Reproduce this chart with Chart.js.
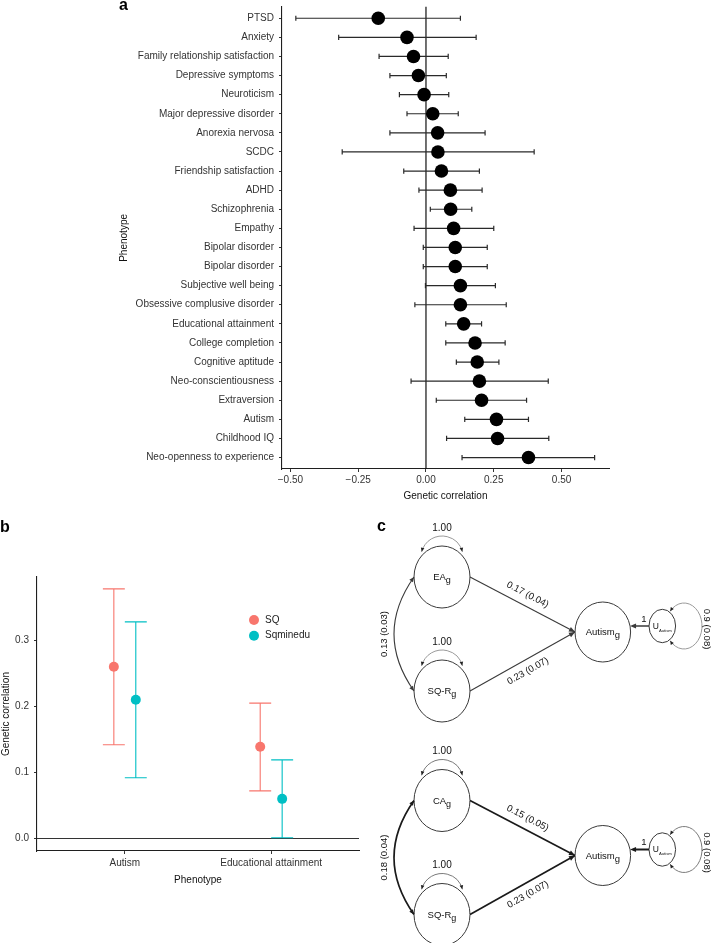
<!DOCTYPE html>
<html><head><meta charset="utf-8">
<script src="https://cdn.jsdelivr.net/npm/chart.js@4.4.1/dist/chart.umd.min.js"></script>
<style>
html,body{margin:0;padding:0;background:#fff;}
body{width:718px;height:943px;position:relative;overflow:hidden;}
canvas{position:absolute;}
#ca{left:0;top:0;}
#cb{left:0;top:510px;}
#cc{left:370px;top:510px;}
</style></head><body>
<canvas id="ca" width="718" height="510"></canvas>
<canvas id="cb" width="370" height="433"></canvas>
<canvas id="cc" width="348" height="433"></canvas>
<script>
// ---------------- Panel a data ----------------
const phenotypes = ["PTSD","Anxiety","Family relationship satisfaction","Depressive symptoms","Neuroticism","Major depressive disorder","Anorexia nervosa","SCDC","Friendship satisfaction","ADHD","Schizophrenia","Empathy","Bipolar disorder","Bipolar disorder","Subjective well being","Obsessive complusive disorder","Educational attainment","College completion","Cognitive aptitude","Neo-conscientiousness","Extraversion","Autism","Childhood IQ","Neo-openness to experience"];
const rgEstimate = [-0.176,-0.070,-0.046,-0.028,-0.007,0.025,0.043,0.044,0.057,0.090,0.091,0.102,0.108,0.108,0.127,0.127,0.139,0.181,0.189,0.197,0.205,0.260,0.264,0.378];
const rgLower = [-0.480,-0.322,-0.173,-0.133,-0.098,-0.070,-0.133,-0.309,-0.082,-0.026,0.016,-0.044,-0.010,-0.010,-0.002,-0.041,0.073,0.073,0.112,-0.055,0.038,0.143,0.076,0.133];
const rgUpper = [0.127,0.185,0.082,0.075,0.084,0.119,0.218,0.399,0.197,0.207,0.169,0.250,0.226,0.226,0.256,0.296,0.205,0.292,0.269,0.451,0.371,0.378,0.453,0.622];
const aXTicks = [-0.5,-0.25,0,0.25,0.5];
const aXTickLabels = ["\u22120.50","\u22120.25","0.00","0.25","0.50"];

// ---------------- Panel b data ----------------
const bPhenotypes = ["Autism","Educational attainment"];
const bSeries = ["SQ","Sqminedu"];
const sqEstimate = [0.260,0.139];
const sqLower = [0.142,0.072];
const sqUpper = [0.378,0.205];
const sqmineduEstimate = [0.210,0.060];
const sqmineduLower = [0.092,0.001];
const sqmineduUpper = [0.328,0.119];
const bYTicks = [0,0.1,0.2,0.3];
const bYTickLabels = ["0.0","0.1","0.2","0.3"];

// ---------------- Panel c data ----------------
const cPredictors = ["EA","CA"];
const cSecondPredictor = "SQ-R";
const cOutcome = "Autism";
const cPathEstimates = [["0.17 (0.04)","0.23 (0.07)"],["0.15 (0.05)","0.23 (0.07)"]];
const cCovariances = ["0.13 (0.03)","0.18 (0.04)"];
const cVariances = ["1.00","1.00"];
const cResiduals = ["0.9 (0.08)","0.9 (0.08)"];
const cLoading = "1";

// ---------------- styling / layout ----------------
const FONT = "'Liberation Sans', Arial, Helvetica, sans-serif";
Chart.defaults.font.family = FONT;
Chart.defaults.font.size = 10;
Chart.defaults.color = '#333';
const COL_SQ = '#F8766D', COL_SQM = '#00BFC4';
const DODGE = 0.075, CAP = 0.075;

function axisStyle(tickLen){
  return {
    grid:{drawOnChartArea:false, drawTicks:true, tickLength:tickLen, color:'#333', lineWidth:1},
    border:{display:true, color:'#1f1f1f', width:1.1}
  };
}

// ---------- Panel a ----------
const forestPlugin = {
  id:'forest',
  beforeDatasetsDraw(chart){
    const {ctx, scales:{x,y}, chartArea} = chart;
    ctx.save();
    const x0 = x.getPixelForValue(0);
    ctx.strokeStyle = '#111'; ctx.lineWidth = 1.2;
    ctx.beginPath(); ctx.moveTo(x0, chartArea.top); ctx.lineTo(x0, chartArea.bottom); ctx.stroke();
    ctx.strokeStyle = '#2a2a2a'; ctx.lineWidth = 1.2;
    phenotypes.forEach((p,i)=>{
      const py = y.getPixelForValue(i);
      const xl = x.getPixelForValue(rgLower[i]), xh = x.getPixelForValue(rgUpper[i]);
      ctx.beginPath();
      ctx.moveTo(xl,py); ctx.lineTo(xh,py);
      ctx.moveTo(xl,py-2.6); ctx.lineTo(xl,py+2.6);
      ctx.moveTo(xh,py-2.6); ctx.lineTo(xh,py+2.6);
      ctx.stroke();
    });
    ctx.restore();
  },
  afterDraw(chart){
    const ctx = chart.ctx;
    ctx.save();
    ctx.fillStyle = '#000'; ctx.font = 'bold 16px ' + FONT;
    ctx.textAlign = 'left'; ctx.textBaseline = 'alphabetic';
    ctx.fillText('a', 119, 9.5);
    ctx.restore();
  }
};

new Chart(document.getElementById('ca'), {
  type:'scatter',
  data:{datasets:[{
    data: rgEstimate.map((v,i)=>({x:v, y:i})),
    pointRadius:6.8, pointHoverRadius:6.8, backgroundColor:'#000', borderColor:'#000', borderWidth:0
  }]},
  options:{
    responsive:false, animation:false, devicePixelRatio:1, events:[],
    layout:{padding:{left:118, right:109, top:0, bottom:8}},
    plugins:{legend:{display:false}, tooltip:{enabled:false}},
    scales:{
      x:Object.assign({
        type:'linear', min:-0.531, max:0.675,
        afterBuildTicks:s=>{ s.ticks = aXTicks.map(v=>({value:v})); },
        afterFit:s=>{ s.height = 33; s.paddingLeft = 0; s.paddingRight = 0; },
        ticks:{autoSkip:false, padding:2, color:'#333', font:{size:10}, callback:(v,i)=>aXTickLabels[i]},
        title:{display:true, text:'Genetic correlation', color:'#111', font:{size:10}, padding:0}
      }, axisStyle(3)),
      y:Object.assign({
        type:'linear', reverse:true, min:-0.6, max:phenotypes.length-0.4,
        afterBuildTicks:s=>{ s.ticks = phenotypes.map((_,i)=>({value:i})); },
        afterFit:s=>{ s.width = 164; s.paddingTop = 0; s.paddingBottom = 0; },
        ticks:{autoSkip:false, padding:5, color:'#333', font:{size:10}, callback:(v,i)=>phenotypes[i]},
        title:{display:true, text:'Phenotype', color:'#111', font:{size:10}, padding:0}
      }, axisStyle(3))
    }
  },
  plugins:[forestPlugin]
});

// ---------- Panel b ----------
const bSeriesData = [
  {name:bSeries[0], est:sqEstimate, lo:sqLower, hi:sqUpper, color:COL_SQ, shift:-DODGE},
  {name:bSeries[1], est:sqmineduEstimate, lo:sqmineduLower, hi:sqmineduUpper, color:COL_SQM, shift:DODGE}
];
const dotPlugin = {
  id:'dots',
  beforeDatasetsDraw(chart){
    const {ctx, scales:{x,y}, chartArea} = chart;
    ctx.save();
    const y0 = y.getPixelForValue(0);
    ctx.strokeStyle = '#333'; ctx.lineWidth = 1.1;
    ctx.beginPath(); ctx.moveTo(chartArea.left, y0); ctx.lineTo(chartArea.right, y0); ctx.stroke();
    bSeriesData.forEach(s=>{
      ctx.strokeStyle = s.color; ctx.lineWidth = 1.1;
      s.est.forEach((v,i)=>{
        const cx = i+1+s.shift;
        const px = x.getPixelForValue(cx);
        const xl = x.getPixelForValue(cx-CAP), xr = x.getPixelForValue(cx+CAP);
        const yl = y.getPixelForValue(s.lo[i]), yh = y.getPixelForValue(s.hi[i]);
        ctx.beginPath();
        ctx.moveTo(px,yl); ctx.lineTo(px,yh);
        ctx.moveTo(xl,yl); ctx.lineTo(xr,yl);
        ctx.moveTo(xl,yh); ctx.lineTo(xr,yh);
        ctx.stroke();
      });
    });
    ctx.restore();
  },
  afterDraw(chart){
    const ctx = chart.ctx;
    ctx.save();
    bSeriesData.forEach((s,k)=>{
      const ly = 110 + k*15.7;
      ctx.fillStyle = s.color;
      ctx.beginPath(); ctx.arc(254, ly, 5, 0, Math.PI*2); ctx.fill();
      ctx.fillStyle = '#222'; ctx.font = '10px ' + FONT;
      ctx.textAlign = 'left'; ctx.textBaseline = 'middle';
      ctx.fillText(s.name, 265, ly);
    });
    ctx.fillStyle = '#000'; ctx.font = 'bold 16px ' + FONT;
    ctx.textBaseline = 'alphabetic';
    ctx.fillText('b', 0, 22);
    ctx.restore();
  }
};

new Chart(document.getElementById('cb'), {
  type:'scatter',
  data:{datasets: bSeriesData.map(s=>({
    label:s.name,
    data: s.est.map((v,i)=>({x:i+1+s.shift, y:v})),
    pointRadius:5, pointHoverRadius:5, backgroundColor:s.color, borderColor:s.color, borderWidth:0
  }))},
  options:{
    responsive:false, animation:false, devicePixelRatio:1, events:[],
    layout:{padding:{left:0, right:11, top:67, bottom:57}},
    plugins:{legend:{display:false}, tooltip:{enabled:false}},
    scales:{
      x:Object.assign({
        type:'linear', min:0.4, max:bPhenotypes.length+0.6,
        afterBuildTicks:s=>{ s.ticks = bPhenotypes.map((_,i)=>({value:i+1})); },
        afterFit:s=>{ s.height = 35; s.paddingLeft = 0; s.paddingRight = 0; },
        ticks:{autoSkip:false, padding:3, color:'#333', font:{size:10}, callback:(v,i)=>bPhenotypes[i]},
        title:{display:true, text:'Phenotype', color:'#111', font:{size:10}, padding:0}
      }, axisStyle(3)),
      y:Object.assign({
        type:'linear', min:-0.019, max:0.396,
        afterBuildTicks:s=>{ s.ticks = bYTicks.map(v=>({value:v})); },
        afterFit:s=>{ s.width = 37; s.paddingTop = 0; s.paddingBottom = 0; },
        ticks:{autoSkip:false, padding:5, color:'#333', font:{size:10}, callback:(v,i)=>bYTickLabels[i]},
        title:{display:true, text:'Genetic correlation', color:'#111', font:{size:10}, padding:0}
      }, axisStyle(3))
    }
  },
  plugins:[dotPlugin]
});

// ---------- Panel c (path diagrams) ----------
const cLayout = {
  modelShiftY:223.5,
  preds:[{x:72, y:67}, {x:72, y:181}], predRx:28, predRy:31,
  outcome:{x:232.8, y:122}, outRx:27.8, outRy:30,
  resid:{x:292.3, y:116}, resRx:13.3, resRy:16.7
};

function arrowHead(ctx, x, y, ang, len, half){
  const c = Math.cos(ang), s = Math.sin(ang);
  ctx.beginPath();
  ctx.moveTo(x, y);
  ctx.lineTo(x - len*c + half*s, y - len*s - half*c);
  ctx.lineTo(x - len*c - half*s, y - len*s + half*c);
  ctx.closePath(); ctx.fill();
}
function subText(ctx, main, sub, cx, cy, size, subSize, subDy){
  ctx.textAlign = 'left'; ctx.textBaseline = 'alphabetic';
  ctx.font = size + 'px ' + FONT; const w1 = ctx.measureText(main).width;
  ctx.font = subSize + 'px ' + FONT; const w2 = ctx.measureText(sub).width;
  const x0 = cx - (w1 + w2)/2, base = cy + size*0.35;
  ctx.font = size + 'px ' + FONT; ctx.fillText(main, x0, base);
  ctx.font = subSize + 'px ' + FONT; ctx.fillText(sub, x0 + w1, base + subDy);
}
function rotText(ctx, txt, x, y, ang, size){
  ctx.save();
  ctx.translate(x, y); ctx.rotate(ang);
  ctx.font = size + 'px ' + FONT; ctx.textAlign = 'center'; ctx.textBaseline = 'middle';
  ctx.fillText(txt, 0, 0);
  ctx.restore();
}

const diagramPlugin = {
  id:'diagram',
  afterDraw(chart){
    const {ctx, scales:{x:sx, y:sy}} = chart;
    const P = (x,y)=>({x:sx.getPixelForValue(x), y:sy.getPixelForValue(y)});
    const kx = Math.abs(sx.getPixelForValue(1) - sx.getPixelForValue(0));
    const ky = Math.abs(sy.getPixelForValue(1) - sy.getPixelForValue(0));
    const L = cLayout;
    ctx.save();
    cPredictors.forEach((pred, k)=>{
      const dy = k*L.modelShiftY;
      const heavy = k === 1;
      const lw = heavy ? 1.7 : 1.1;
      const edgeCol = heavy ? '#1a1a1a' : '#3a3a3a';
      const loopCol = heavy ? '#7a7a7a' : '#9a9a9a';
      const prx = L.predRx*kx, pry = L.predRy*ky;
      const orx = L.outRx*kx, ory = L.outRy*ky;
      const rrx = L.resRx*kx, rry = L.resRy*ky;
      const pc = L.preds.map(p=>P(p.x, p.y+dy));
      const oc = P(L.outcome.x, L.outcome.y+dy);
      const rc = P(L.resid.x, L.resid.y+dy);
      const names = [pred, cSecondPredictor];

      // ellipses
      ctx.strokeStyle = '#3a3a3a'; ctx.lineWidth = 1;
      [[pc[0],prx,pry],[pc[1],prx,pry],[oc,orx,ory],[rc,rrx,rry]].forEach(([c,rx,ry])=>{
        ctx.beginPath(); ctx.ellipse(c.x, c.y, rx, ry, 0, 0, Math.PI*2); ctx.stroke();
      });

      // labels inside nodes
      ctx.fillStyle = '#111';
      pc.forEach((c,i)=>subText(ctx, names[i], 'g', c.x, c.y, 9.5, 9, 3));
      subText(ctx, cOutcome, 'g', oc.x, oc.y, 9.5, 9.5, 3);
      subText(ctx, 'U', cOutcome, rc.x, rc.y, 8.5, 4.2, 3);

      // variance self loops on predictors
      pc.forEach(c=>{
        const lc = {x:c.x, y:c.y - pry + 11}, R = 21, a0 = Math.PI + 0.25, a1 = 2*Math.PI - 0.25;
        ctx.strokeStyle = loopCol; ctx.lineWidth = 1;
        ctx.beginPath(); ctx.arc(lc.x, lc.y, R, a0, a1); ctx.stroke();
        ctx.fillStyle = '#222';
        const e1 = {x:lc.x + R*Math.cos(a1), y:lc.y + R*Math.sin(a1)};
        const e0 = {x:lc.x + R*Math.cos(a0), y:lc.y + R*Math.sin(a0)};
        arrowHead(ctx, e1.x, e1.y, Math.atan2(Math.cos(a1), -Math.sin(a1)), 4, 1.8);
        arrowHead(ctx, e0.x, e0.y, Math.atan2(-Math.cos(a0), Math.sin(a0)), 4, 1.8);
        ctx.fillStyle = '#111';
        rotText(ctx, cVariances[k], c.x, lc.y - R - 8, 0, 10);
      });

      // covariance curve
      const S = {x:pc[0].x - prx, y:pc[0].y}, E = {x:pc[1].x - prx, y:pc[1].y};
      const C = {x:S.x - 40*kx, y:(S.y + E.y)/2};
      ctx.strokeStyle = edgeCol; ctx.lineWidth = lw;
      ctx.beginPath(); ctx.moveTo(S.x, S.y); ctx.quadraticCurveTo(C.x, C.y, E.x, E.y); ctx.stroke();
      ctx.fillStyle = edgeCol;
      arrowHead(ctx, S.x, S.y, Math.atan2(S.y - C.y, S.x - C.x), 5, 2.2);
      arrowHead(ctx, E.x, E.y, Math.atan2(E.y - C.y, E.x - C.x), 5, 2.2);
      ctx.fillStyle = '#111';
      rotText(ctx, cCovariances[k], S.x - 30*kx, C.y, -Math.PI/2, 9.5);

      // regression paths
      const tip = {x:oc.x - orx, y:oc.y};
      pc.forEach((c,i)=>{
        const st = {x:c.x + prx, y:c.y};
        const ang = Math.atan2(tip.y - st.y, tip.x - st.x);
        ctx.strokeStyle = edgeCol; ctx.lineWidth = lw;
        ctx.beginPath(); ctx.moveTo(st.x, st.y); ctx.lineTo(tip.x, tip.y); ctx.stroke();
        ctx.fillStyle = edgeCol;
        arrowHead(ctx, tip.x, tip.y, ang, 6, 2.6);
        const mx = (st.x + tip.x)/2, my = (st.y + tip.y)/2;
        const n = i === 0 ? {x:Math.sin(ang), y:-Math.cos(ang)} : {x:-Math.sin(ang), y:Math.cos(ang)};
        ctx.fillStyle = '#111';
        rotText(ctx, cPathEstimates[k][i], mx + 11*n.x, my + 11*n.y, ang, 9.5);
      });

      // residual -> outcome
      const rs = {x:rc.x - rrx, y:rc.y};
      const t = (rc.y - oc.y)/ory;
      const re = {x:oc.x + orx*Math.sqrt(Math.max(0, 1 - t*t)), y:rc.y};
      ctx.strokeStyle = edgeCol; ctx.lineWidth = heavy ? 2 : 1.5;
      ctx.beginPath(); ctx.moveTo(rs.x, rs.y); ctx.lineTo(re.x + 4, re.y); ctx.stroke();
      ctx.fillStyle = edgeCol;
      arrowHead(ctx, re.x, re.y, Math.PI, 6, 2.6);
      ctx.fillStyle = '#111';
      rotText(ctx, cLoading, rs.x - 5, rc.y - 7, 0, 9.5);

      // residual variance loop
      const lc2 = {x:rc.x + 21.7*kx, y:rc.y}, lrx = 18*kx, lry = 23*ky, b0 = -2.45, b1 = 2.45;
      ctx.strokeStyle = loopCol; ctx.lineWidth = 1;
      ctx.beginPath(); ctx.ellipse(lc2.x, lc2.y, lrx, lry, 0, b0, b1); ctx.stroke();
      ctx.fillStyle = '#222';
      const q1 = {x:lc2.x + lrx*Math.cos(b1), y:lc2.y + lry*Math.sin(b1)};
      const q0 = {x:lc2.x + lrx*Math.cos(b0), y:lc2.y + lry*Math.sin(b0)};
      arrowHead(ctx, q1.x, q1.y, Math.atan2(lry*Math.cos(b1), -lrx*Math.sin(b1)), 4, 1.8);
      arrowHead(ctx, q0.x, q0.y, Math.atan2(-lry*Math.cos(b0), lrx*Math.sin(b0)), 4, 1.8);
      ctx.fillStyle = '#111';
      rotText(ctx, cResiduals[k], rc.x + 44.4*kx, rc.y + 3, Math.PI/2, 9.5);
    });
    ctx.fillStyle = '#000'; ctx.font = 'bold 16px ' + FONT;
    ctx.textAlign = 'left'; ctx.textBaseline = 'alphabetic';
    ctx.fillText('c', 7, 21);
    ctx.restore();
  }
};

new Chart(document.getElementById('cc'), {
  type:'scatter',
  data:{datasets:[]},
  options:{
    responsive:false, animation:false, devicePixelRatio:1, events:[],
    layout:{padding:0},
    plugins:{legend:{display:false}, tooltip:{enabled:false}},
    scales:{
      x:{type:'linear', display:false, min:0, max:348},
      y:{type:'linear', display:false, min:0, max:433, reverse:true}
    }
  },
  plugins:[diagramPlugin]
});
</script>
</body></html>
